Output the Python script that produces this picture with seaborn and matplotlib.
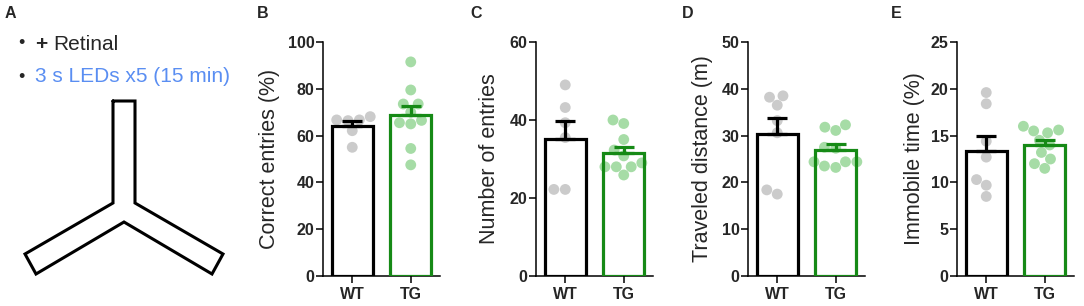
import numpy as np
import pandas as pd
import matplotlib.pyplot as plt
import seaborn as sns

# values (one dot = one animal)
groups = ["WT", "TG"]

correct_wt = [68.1, 66.7, 66.7, 66.4, 62.1, 55.0]
correct_tg = [91.5, 79.5, 73.5, 73.5, 70.0, 66.5, 65.0, 65.5, 54.5, 47.5]
entries_wt = [49.0, 43.2, 39.3, 35.5, 22.2, 22.2]
entries_tg = [40.0, 39.1, 35.0, 32.3, 30.8, 29.0, 28.0, 28.0, 28.0, 25.9]
distance_wt = [38.5, 38.2, 36.5, 33.2, 30.6, 17.5, 18.4]
distance_tg = [32.3, 31.1, 31.8, 27.5, 27.3, 24.4, 24.4, 23.2, 24.4, 23.5]
immobile_wt = [19.6, 18.4, 14.4, 12.7, 10.3, 9.7, 8.5]
immobile_tg = [15.6, 15.3, 16.0, 15.5, 14.5, 14.0, 13.2, 12.5, 12.0, 11.5]

panel_letters = ["B", "C", "D", "E"]
ylabels = ["Correct entries (%)", "Number of entries",
           "Traveled distance (m)", "Immobile time (%)"]
ymax = [100, 60, 50, 25]
ystep = [20, 20, 10, 5]

# Y-maze outline for panel A (pixel coords)
maze_x = [113, 135, 135, 223, 212, 124, 36, 25, 113, 113]
maze_y = [101, 101, 203, 254, 274, 222, 274, 254, 203, 101]

W, H = 1084, 306
dot_colors = {"WT": "#cbcbcb", "TG": "#a6dca6"}
bar_colors = {"WT": "#000000", "TG": "#168a16"}
blue = "#5a8ef2"


def draw_panel(fig, left, wt, tg, letter, ylabel, top, step, label_x):
    ax = fig.add_axes([left / W, (H - 276) / H, 117 / W, 234 / H])
    df = pd.DataFrame({"group": ["WT"] * len(wt) + ["TG"] * len(tg),
                       "value": wt + tg})
    sns.swarmplot(data=df, x="group", y="value", hue="group", order=groups,
                  palette=dot_colors, size=7.8, linewidth=0, legend=False,
                  zorder=1, ax=ax)
    sns.barplot(data=df, x="group", y="value", hue="group", order=groups,
                palette=bar_colors, fill=False, errorbar=None, width=0.7,
                linewidth=2.3, legend=False, zorder=3, ax=ax)
    for i, vals in enumerate([wt, tg]):
        vals = np.array(vals)
        m = vals.mean()
        sem = vals.std(ddof=1) / np.sqrt(len(vals))
        ax.errorbar(i, m, yerr=[[0], [sem]], color=bar_colors[groups[i]],
                    capsize=7.5, elinewidth=2.3, capthick=2.3, zorder=4)

    ax.set_xlim(-0.5, 1.5)
    ax.set_ylim(0, top)
    ax.set_yticks(np.arange(0, top + 1, step))
    ax.set_xlabel("")
    ax.set_ylabel(ylabel, fontsize=15.5)
    ax.yaxis.set_label_coords(label_x, 0.5)
    sns.despine(ax=ax)
    for s in ["left", "bottom"]:
        ax.spines[s].set_linewidth(1.1)
        ax.spines[s].set_color("black")
    ax.tick_params(axis="both", length=5, width=1.1, labelsize=11.5, color="black")
    ax.tick_params(axis="y", pad=1)
    ax.tick_params(axis="x", pad=3)
    plt.setp(ax.get_xticklabels() + ax.get_yticklabels(), fontweight="bold")
    fig.text((left - 66) / W, 1 - 13 / H, letter, fontsize=11.5,
             fontweight="bold", va="center")
    return ax


def main():
    sns.set_style("ticks")
    plt.rcParams["font.family"] = ["Liberation Sans", "DejaVu Sans"]

    fig = plt.figure(figsize=(W / 100, H / 100), dpi=100)

    # panel A: protocol text and Y-maze sketch
    bg = fig.add_axes([0, 0, 1, 1])
    bg.set_xlim(0, W)
    bg.set_ylim(H, 0)
    bg.axis("off")
    bg.plot(maze_x, maze_y, color="black", lw=2.2, solid_joinstyle="miter")
    bg.text(5, 13, "A", fontsize=11.5, fontweight="bold", va="center")
    bg.text(18, 44, "\u2022", fontsize=13, va="center")
    bg.text(35, 44, "+", fontsize=15, fontweight="bold", va="center")
    bg.text(53, 44, "Retinal", fontsize=15, va="center")
    bg.text(18, 77, "\u2022", fontsize=13, va="center")
    bg.text(35, 77, "3 s LEDs x5 (15 min)", fontsize=15, color=blue, va="center")

    lefts = [323, 536, 748, 957]
    label_xs = [-0.37, -0.31, -0.30, -0.27]
    data = [(correct_wt, correct_tg), (entries_wt, entries_tg),
            (distance_wt, distance_tg), (immobile_wt, immobile_tg)]
    for k in range(4):
        draw_panel(fig, lefts[k], data[k][0], data[k][1], panel_letters[k],
                   ylabels[k], ymax[k], ystep[k], label_xs[k])

    fig.savefig("out.png", dpi=100)
    plt.close(fig)


if __name__ == "__main__":
    main()
